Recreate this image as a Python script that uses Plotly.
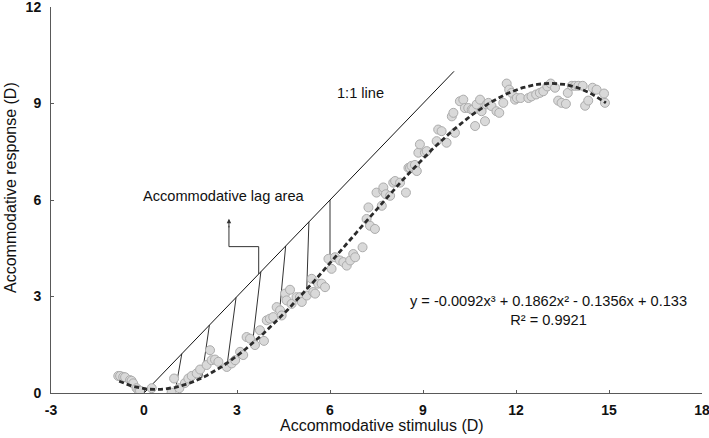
import numpy as np
import plotly.graph_objects as go

# scatter data (stimulus D, response D)
stim = [-0.83, -0.77, -0.67, -0.61, -0.45, -0.4, -0.35, -0.24, -0.18, -0.13, 0.25,
        0.89, 0.97, 1.14, 1.32, 1.43, 1.54, 1.7, 1.81, 2.02, 2.13, 2.18, 2.29, 2.4,
        2.67, 2.83, 2.94, 3.1, 3.2, 3.31, 3.42, 3.58, 3.74, 3.87, 3.96, 4.06, 4.17,
        4.28, 4.39, 4.44, 4.55, 4.6, 4.71, 4.76, 4.92, 5.03, 5.09, 5.25, 5.41, 5.46,
        5.52, 5.62, 5.73, 5.84, 5.95, 6.05, 6.16, 6.32, 6.43, 6.54, 6.65, 6.75, 6.81,
        7.05, 7.18, 7.24, 7.29, 7.45, 7.5, 7.67, 7.72, 7.72, 7.8, 7.94, 8.04, 8.1,
        8.26, 8.45, 8.53, 8.58, 8.63, 8.74, 8.8, 8.85, 8.9, 9.06, 9.12, 9.44, 9.49,
        9.6, 9.76, 9.93, 9.98, 10.03, 10.19, 10.3, 10.35, 10.46, 10.57, 10.62, 10.68,
        10.73, 10.84, 10.89, 11.0, 11.05, 11.11, 11.21, 11.37, 11.46, 11.59, 11.7,
        11.78, 11.86, 11.97, 12.03, 12.15, 12.4, 12.5, 12.65, 12.77, 12.88, 13.01,
        13.12, 13.26, 13.36, 13.47, 13.61, 13.67, 13.8, 13.9, 14.01, 14.15, 14.23,
        14.33, 14.47, 14.6, 14.84, 14.87]
resp = [0.53, 0.53, 0.5, 0.49, 0.4, 0.38, 0.3, 0.15, 0.09, 0.07, 0.15,
        0.01, 0.45, 0.15, 0.31, 0.45, 0.53, 0.61, 0.73, 0.87, 1.33, 1.02, 1.04, 0.97,
        0.81, 0.92, 1.02, 1.28, 1.18, 1.74, 1.69, 1.49, 1.95, 1.62, 2.26, 2.31, 2.36,
        2.67, 2.57, 2.41, 3.09, 2.88, 3.21, 2.77, 2.98, 2.98, 2.83, 3.03, 3.55, 3.14,
        3.09, 3.4, 3.4, 3.29, 4.17, 3.86, 4.22, 4.12, 4.07, 3.96, 4.12, 4.32, 4.22,
        4.53, 5.41, 5.77, 5.2, 5.1, 6.23, 5.82, 6.28, 6.39, 6.18, 6.13, 6.54, 6.59,
        6.54, 6.23, 7.0, 7.0, 7.06, 7.09, 6.9, 7.47, 7.73, 7.47, 7.52, 7.83, 8.19,
        8.14, 7.78, 8.6, 8.71, 8.09, 9.07, 9.12, 8.86, 8.86, 8.81, 8.81, 8.3,
        8.97, 9.12, 8.76, 8.45, 8.97, 9.02, 8.92, 8.76, 8.71, 9.02, 9.62,
        9.43, 9.33, 9.12, 9.17, 9.17, 9.17, 9.22, 9.28, 9.33, 9.38, 9.53,
        9.62, 9.49, 9.09, 9.02, 8.99, 9.33, 9.55, 9.55, 9.55, 9.55, 8.93,
        9.09, 9.49, 9.43, 9.31, 9.02]

# fitted trendline coefficients (x^3, x^2, x, const) as printed on the chart
coef = [-0.0092, 0.1862, -0.1356, 0.133]
fit_range = [-0.8, 14.9]

# 1:1 line end points
one_to_one = [0, 10]

# hatching of the lag area: x on the 1:1 line and x on the fitted curve
lag_top = [1.22, 2.11, 2.97, 3.77, 4.57, 5.32, 6.0]
lag_bottom = [1.03, 1.86, 2.69, 3.5, 4.35, 5.25, 6.0]

x_ticks = [-3, 0, 3, 6, 9, 12, 15, 18]
y_ticks = [0, 3, 6, 9, 12]

font = "Arial, Liberation Sans, sans-serif"
poly = np.poly1d(coef)

fig = go.Figure()

# lag area hatching
hx, hy = [], []
for t, b in zip(lag_top, lag_bottom):
    hx += [t, b, None]
    hy += [t, float(poly(b)), None]
fig.add_trace(go.Scatter(x=hx, y=hy, mode="lines", line=dict(color="#333333", width=1),
                         hoverinfo="skip"))

# 1:1 line
fig.add_trace(go.Scatter(x=one_to_one, y=one_to_one, mode="lines",
                         line=dict(color="#111111", width=1)))

# connector from the lag area to its label
fig.add_trace(go.Scatter(x=[3.7, 3.7, 2.74, 2.74], y=[3.7, 4.55, 4.55, 5.2], mode="lines",
                         line=dict(color="#333333", width=1), hoverinfo="skip"))

# data points
fig.add_trace(go.Scatter(x=stim, y=resp, mode="markers",
                         marker=dict(size=9, color="#d9d9d9",
                                     line=dict(color="#acacac", width=1))))

# polynomial trendline
xf = np.linspace(fit_range[0], fit_range[1], 200)
fig.add_trace(go.Scatter(x=xf, y=poly(xf), mode="lines",
                         line=dict(color="#2b2b2b", width=2.8, dash="5px,3px")))

fig.add_annotation(x=2.74, y=5.42, ax=2.74, ay=5.1, axref="x", ayref="y",
                   showarrow=True, arrowhead=2, arrowsize=0.9, arrowwidth=1,
                   arrowcolor="#333333", text="")
txt = dict(family=font, size=14.6, color="#111111")
fig.add_annotation(x=6.97, y=9.32, text="1:1 line", showarrow=False, font=txt)
fig.add_annotation(x=2.55, y=6.13, text="Accommodative lag area", showarrow=False, font=txt)
fig.add_annotation(x=13.05, y=2.57,
                   text="y = -0.0092x³ + 0.1862x² - 0.1356x + 0.133<br>R² = 0.9921",
                   showarrow=False, align="center", font=txt)

# axis titles placed as annotations for exact positioning
title_font = dict(family=font, size=16, color="#111111")
fig.add_annotation(x=0.5, y=0, xref="paper", yref="paper", xshift=5, yshift=-32,
                   xanchor="center", yanchor="middle",
                   text="Accommodative stimulus (D)", showarrow=False, font=title_font)
fig.add_annotation(x=0, y=0.5, xref="paper", yref="paper", xshift=-41, yshift=12,
                   xanchor="center", yanchor="middle",
                   text="Accommodative response (D)", textangle=-90, showarrow=False,
                   font=title_font)

axis_common = dict(showline=True, linecolor="#595959", linewidth=1, showgrid=False,
                   zeroline=False, ticks="inside", ticklen=3, tickcolor="#595959",
                   automargin=False, ticklabeloverflow="allow",
                   tickfont=dict(family=font, size=14, color="#111111", weight="bold"))

fig.update_xaxes(range=[-3, 18], tickvals=x_ticks, ticktext=[str(v) for v in x_ticks],
                 ticklabelstandoff=4, **axis_common)
fig.update_yaxes(range=[0, 12], tickvals=y_ticks, ticktext=[str(v) for v in y_ticks],
                 ticklabelstandoff=6, **axis_common)

fig.update_layout(width=709, height=438, showlegend=False,
                  margin=dict(l=51, r=7, t=7, b=45),
                  plot_bgcolor="white", paper_bgcolor="white")

# the page puts a default 8px margin round the body; drop it so the figure sits at 0,0
fig.write_html("out.html", config={"displayModeBar": False},
               post_script="document.body.style.margin='0';")
